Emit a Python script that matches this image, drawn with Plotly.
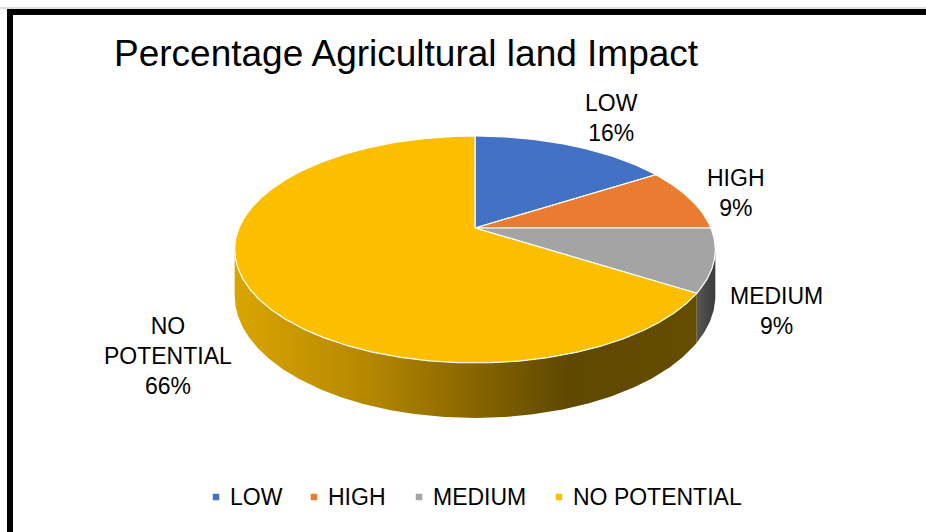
import math
import plotly.graph_objects as go

# ---- data ----
categories = ["LOW", "HIGH", "MEDIUM", "NO POTENTIAL"]
values = [16, 9, 9, 66]
label_text = ["LOW", "HIGH", "MEDIUM", "NO<br>POTENTIAL"]
title_text = "Percentage Agricultural land Impact"

# ---- styles / layout ----
W, H = 926, 532
top_colors = ["#4371C3", "#EA7C31", "#A4A4A4", "#FBBF00"]
side_fill = {
    "MEDIUM": dict(type="horizontal", colorscale=[[0, "#555555"], [1, "#3C3C3C"]]),
    "NO POTENTIAL": dict(type="horizontal",
                         colorscale=[[0, "#DAA500"], [0.3, "#B38600"], [0.72, "#5F4800"], [1, "#654D00"]]),
}
side_solid = {"LOW": "#2F5597", "HIGH": "#A8561F", "MEDIUM": "#444444", "NO POTENTIAL": "#8A6900"}
label_pos = [(611, 118), (736, 193), (776, 311), (168, 356)]
legend_x = [216, 314, 419, 559]   # legend square centres (px)
legend_y = 497
FONT = "Liberation Sans, Arial, sans-serif"

# pseudo-3D projection of the pie disk
cx, cy = 475.0, 228.0
R, Rk, P, D = 236.0, 109.4, 0.189, 44.6


def proj(theta_deg, depth=0.0):
    t = math.radians(theta_deg)
    s = 1 + P * math.cos(t)
    return cx + R * math.sin(t) / s, cy - Rk * math.cos(t) / s + depth * D / s


def arc(a, b, depth=0.0, step=0.5):
    n = max(2, int(abs(b - a) / step) + 1)
    pts = [proj(a + (b - a) * i / (n - 1), depth) for i in range(n)]
    return [p[0] for p in pts], [p[1] for p in pts]


total = float(sum(values))
bounds = []
acc = 0.0
for v in values:
    start = acc / total * 360
    acc += v
    bounds.append((start, acc / total * 360))

theta_r = math.degrees(math.acos(-P))
theta_l = 360 - theta_r

fig = go.Figure()

# side walls (front, visible part)
for cat, (a, b) in zip(categories, bounds):
    a2, b2 = max(a, theta_r), min(b, theta_l)
    if b2 <= a2:
        continue
    xt, yt = arc(a2, b2, 0.0)
    xb, yb = arc(a2, b2, 1.0)
    xs = xt + xb[::-1] + [xt[0]]
    ys = yt + yb[::-1] + [yt[0]]
    kw = {}
    if cat in side_fill:
        g = dict(side_fill[cat])
        g["start"] = min(xs)
        g["stop"] = max(xs)
        kw["fillgradient"] = g
    else:
        kw["fillcolor"] = side_solid[cat]
    fig.add_trace(go.Scatter(x=xs, y=ys, mode="lines", fill="toself",
                             line=dict(color="rgba(0,0,0,0)", width=0),
                             hoverinfo="skip", showlegend=False, **kw))

# top faces
for cat, col, (a, b) in zip(categories, top_colors, bounds):
    xa, ya = arc(a, b, 0.0)
    xs = [cx] + xa + [cx]
    ys = [cy] + ya + [cy]
    fig.add_trace(go.Scatter(x=xs, y=ys, mode="lines", fill="toself",
                             fillcolor=col, line=dict(color="white", width=1.2),
                             name=cat, hoverinfo="skip", showlegend=False))

# legend (Excel style: small square + label)
for cat, col, lx in zip(categories, top_colors, legend_x):
    fig.add_trace(go.Scatter(x=[lx], y=[legend_y], mode="markers", name=cat,
                             marker=dict(symbol="square", size=6.5, color=col, line=dict(width=0)),
                             hoverinfo="skip", showlegend=False))
    fig.add_annotation(x=lx + 12, y=legend_y, xref="x", yref="y", text=cat, showarrow=False,
                       font=dict(family=FONT, size=23, color="black"),
                       xanchor="left", yanchor="middle")

# data labels
for txt, v, (lx, ly) in zip(label_text, values, label_pos):
    pct = round(v / total * 100)
    fig.add_annotation(x=lx, y=ly, xref="x", yref="y", text=f"{txt}<br>{pct}%",
                       showarrow=False, font=dict(family=FONT, size=23, color="black"),
                       align="center", xanchor="center", yanchor="middle")

# title
fig.add_annotation(x=112, y=53, xref="x", yref="y", text=title_text, showarrow=False,
                   font=dict(family=FONT, size=37, color="black"),
                   xanchor="left", yanchor="middle")

# frame
fig.add_shape(type="line", x0=0, x1=W, y0=8, y1=8, xref="x", yref="y",
              line=dict(color="#BFBFBF", width=1))
fig.add_shape(type="rect", x0=10, x1=W + 50, y0=12, y1=H + 50, xref="x", yref="y",
              line=dict(color="black", width=6))

fig.update_layout(
    width=W, height=H,
    margin=dict(l=0, r=0, t=0, b=0),
    paper_bgcolor="white", plot_bgcolor="white",
    xaxis=dict(range=[0, W], visible=False, fixedrange=True),
    yaxis=dict(range=[H, 0], visible=False, fixedrange=True),
    showlegend=False,
)

fig.write_html("out.html")
